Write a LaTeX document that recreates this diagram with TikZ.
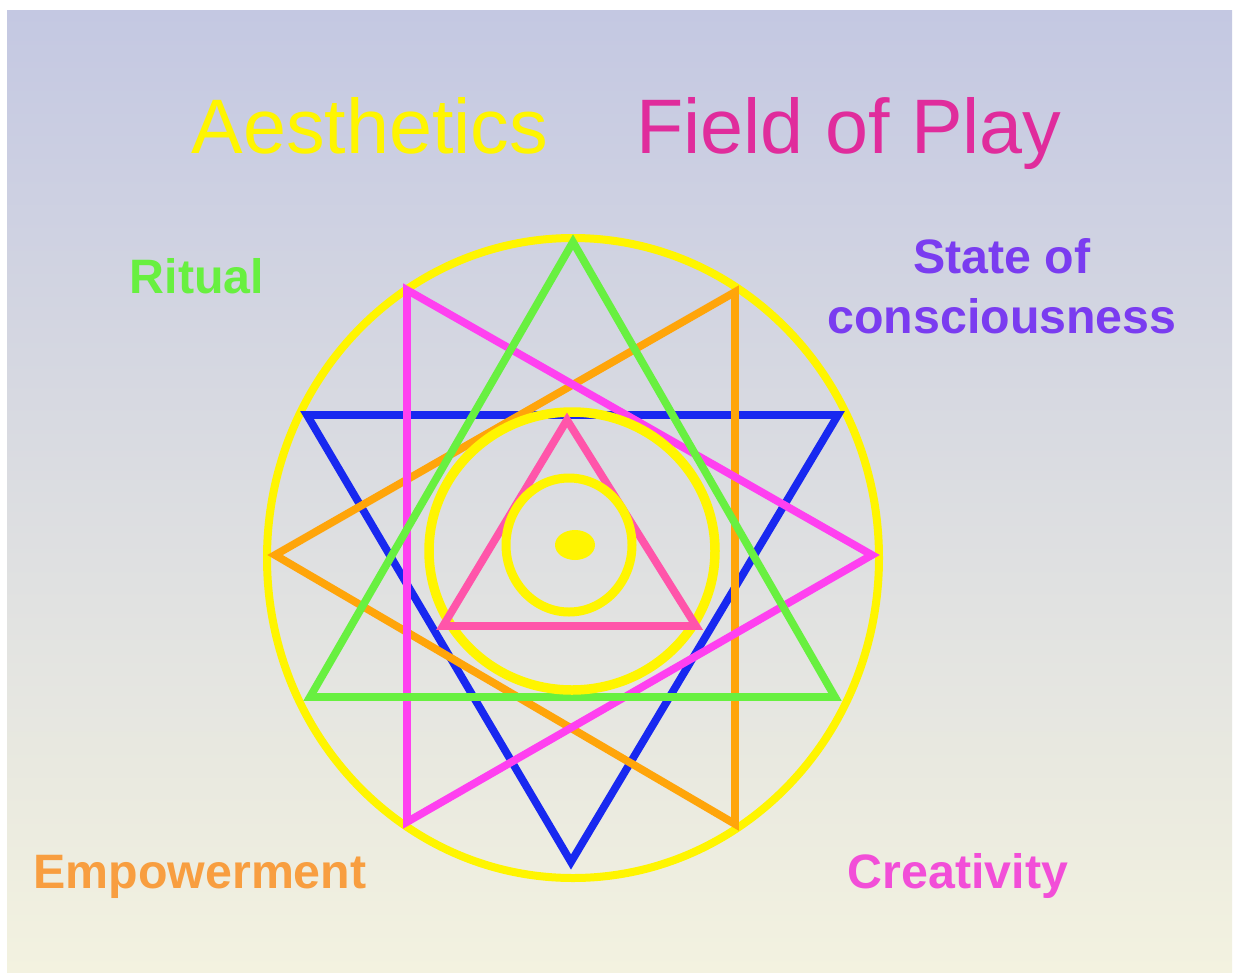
\documentclass[tikz,border=0pt]{standalone}
\usepackage{fontspec}
\setmainfont{Liberation Sans}
\usepackage{xcolor}
\usetikzlibrary{calc}

\definecolor{bgtop}{RGB}{196,200,226}
\definecolor{bgbot}{RGB}{243,242,224}
\definecolor{sunyellow}{RGB}{255,245,0}
\definecolor{leafgreen}{RGB}{104,240,64}
\definecolor{deepblue}{RGB}{24,40,240}
\definecolor{hotmagenta}{RGB}{255,64,240}
\definecolor{brightorange}{RGB}{255,165,10}
\definecolor{rosepink}{RGB}{255,85,170}
\definecolor{titlepink}{RGB}{224,44,156}
\definecolor{violet}{RGB}{122,60,240}
\definecolor{labelorange}{RGB}{248,158,64}
\definecolor{labelpink}{RGB}{242,78,216}

\begin{document}
\begin{tikzpicture}[
  x=0.02cm, y=-0.02cm,
  % Figure lines
  ring/.style={draw=sunyellow, line width=0.16cm},
  tri/.style={line width=0.155cm, line join=miter},
  % Texts
  title/.style={font=\fontsize{44}{48}\selectfont, anchor=base},
  tag/.style={font=\fontsize{27.5}{32}\selectfont\bfseries, anchor=base},
]

% -------------------------------------------------------
% BACKGROUND
% -------------------------------------------------------
\useasboundingbox (0,0) rectangle (1234,974);
\fill[white] (0,0) rectangle (1234,974);
\shade[top color=bgtop, bottom color=bgbot] (7,10) rectangle (1232,972);

% -------------------------------------------------------
% OUTER RING
% -------------------------------------------------------
\draw[ring] (573,558) ellipse [x radius=306, y radius=320];

% -------------------------------------------------------
% STAR — four triangles
% -------------------------------------------------------
\coordinate (gtop)  at (573,242);
\coordinate (gleft) at (310,697);
\coordinate (gright) at (835,697);

\coordinate (bleft)  at (307,415);
\coordinate (bright) at (838,415);
\coordinate (bbot)   at (571,862);

\coordinate (mtop) at (407,290);
\coordinate (mtip) at (872,555);
\coordinate (mbot) at (407,822);

\coordinate (otop) at (735,292);
\coordinate (otip) at (275,555);
\coordinate (obot) at (735,824);

\draw[tri, deepblue] (bleft) -- (bright) -- (bbot) -- cycle;
\draw[tri, brightorange] (otop) -- (otip) -- (obot) -- cycle;
\draw[tri, hotmagenta] (mtop) -- (mtip) -- (mbot) -- cycle;
\draw[tri, leafgreen] (gtop) -- (gright) -- (gleft) -- cycle;

% -------------------------------------------------------
% INNER RING, TRIANGLE, CORE
% -------------------------------------------------------
\draw[ring, line width=0.19cm] (572,551) ellipse [x radius=143, y radius=139];

\coordinate (ptop)   at (567,420);
\coordinate (pleft)  at (443,626);
\coordinate (pright) at (696,626);
\draw[tri, rosepink] (ptop) -- (pright) -- (pleft) -- cycle;

\draw[ring, line width=0.18cm] (569,545) ellipse [x radius=63, y radius=67];
\fill[sunyellow] (575,545) ellipse [x radius=20, y radius=15];

% -------------------------------------------------------
% LABELS
% -------------------------------------------------------
\node[title, text=sunyellow]  (aes)   at (370,153) {Aesthetics};
\node[title, text=titlepink]  (field) at (849,153) {Field of Play};

\node[tag, text=leafgreen] (ritual) at (197,293) {Ritual};
\node[tag, text=violet] (state) at (1002,273) {State of};
\node[tag, text=violet] (cons)  at (1002,333) {consciousness};
\node[tag, text=labelorange] (emp) at (200,888) {Empowerment};
\node[tag, text=labelpink] (crea) at (958,888) {Creativity};

\end{tikzpicture}
\end{document}
